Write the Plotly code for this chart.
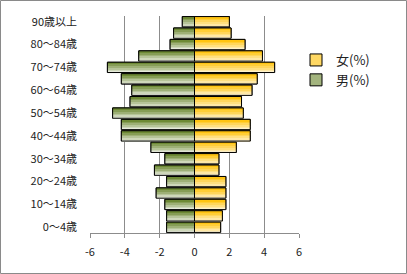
import plotly.graph_objects as go

# Age groups (bottom to top) and population share by sex (%)
ages = ["0～4歳", "5～9歳", "10～14歳", "15～19歳", "20～24歳", "25～29歳",
        "30～34歳", "35～39歳", "40～44歳", "45～49歳", "50～54歳", "55～59歳",
        "60～64歳", "65～69歳", "70～74歳", "75～79歳", "80～84歳", "85～89歳",
        "90歳以上"]
male = [-1.6, -1.6, -1.7, -2.2, -1.6, -2.3, -1.7, -2.5, -4.2, -4.2,
        -4.7, -3.7, -3.6, -4.2, -5.0, -3.2, -1.4, -1.2, -0.7]
female = [1.5, 1.6, 1.8, 1.8, 1.8, 1.4, 1.4, 2.4, 3.2, 3.2,
          2.8, 2.7, 3.3, 3.6, 4.6, 3.9, 2.9, 2.1, 2.0]
x_ticks = [-6, -4, -2, 0, 2, 4, 6]
x_tick_text = ["-6", "-4", "-2", "0", "2", "4", "6"]

FONT = "Noto Sans CJK JP"
BAR_W = 0.9
N_SLICES = 6

# vertical gradient endpoints (top colour, bottom colour)
grad = {
    "female": ((255, 192, 0), (255, 246, 220)),
    "male": ((98, 128, 36), (242, 244, 236)),
}


def mix(top, bottom, t):
    # t = 0 at bottom, 1 at top
    return "rgb({},{},{})".format(*[round(b + (a - b) * t) for a, b in zip(top, bottom)])


fig = go.Figure()

series = [("女(%)", female, "female"), ("男(%)", male, "male")]

# base bars carry the legend entry
for name, vals, key in series:
    top, bottom = grad[key]
    fig.add_trace(go.Bar(
        x=vals, y=ages, orientation="h", name=name, width=BAR_W,
        legendgroup=key,
        marker=dict(color=mix(top, bottom, 0.55), line=dict(color="black", width=1)),
        hoverinfo="skip",
    ))

# gradient slices
for name, vals, key in series:
    top, bottom = grad[key]
    step = BAR_W / N_SLICES
    for k in range(N_SLICES):
        t = (k + 0.5) / N_SLICES
        fig.add_trace(go.Bar(
            x=vals, y=ages, orientation="h", showlegend=False,
            width=step + 0.01, offset=-BAR_W / 2 + k * step,
            marker=dict(color=mix(top, bottom, t), line=dict(width=0)),
            hoverinfo="skip",
        ))

# outlines on top
for name, vals, key in series:
    fig.add_trace(go.Bar(
        x=vals, y=ages, orientation="h", showlegend=False, width=BAR_W,
        marker=dict(color="rgba(0,0,0,0)", line=dict(color="black", width=1)),
        hoverinfo="skip",
    ))

L, R, T, B = 90, 108, 16, 41
W, H = 407, 274
pw, ph = W - L - R, H - T - B

fig.update_layout(
    width=W, height=H,
    margin=dict(l=L, r=R, t=T, b=B),
    barmode="overlay",
    paper_bgcolor="white", plot_bgcolor="white",
    font=dict(family=FONT, size=11, color="#222"),
    legend=dict(x=(296 - L) / pw, y=(H - 45 - B) / ph, xanchor="left", yanchor="top",
                traceorder="normal", tracegroupgap=8,
                font=dict(family=FONT, size=13, color="#222"),
                bgcolor="rgba(0,0,0,0)"),
    shapes=[dict(type="rect", xref="paper", yref="paper",
                 x0=(0.5 - L) / pw, x1=(W - 0.5 - L) / pw,
                 y0=(0.5 - B) / ph, y1=(H - 0.5 - B) / ph,
                 line=dict(color="#8a8a8a", width=1), layer="below")],
)

fig.update_xaxes(
    range=[-6, 6], tickvals=x_ticks, ticktext=x_tick_text,
    showgrid=True, gridcolor="#8c8c8c", gridwidth=1,
    zeroline=True, zerolinecolor="#7f8a9a", zerolinewidth=1,
    showline=True, linecolor="#8c8c8c", linewidth=1,
    ticks="outside", ticklen=4, tickcolor="#8c8c8c",
    ticklabelstandoff=5,
    tickfont=dict(family=FONT, size=11, color="#222"),
    fixedrange=True,
)
fig.update_yaxes(
    type="category", categoryorder="array", categoryarray=ages,
    tickvals=ages[::2], ticktext=ages[::2],
    showgrid=False, zeroline=False, showline=False, ticks="",
    ticklabelstandoff=12,
    tickfont=dict(family=FONT, size=11, color="#222"),
    fixedrange=True,
)

fig.write_html("out.html")
